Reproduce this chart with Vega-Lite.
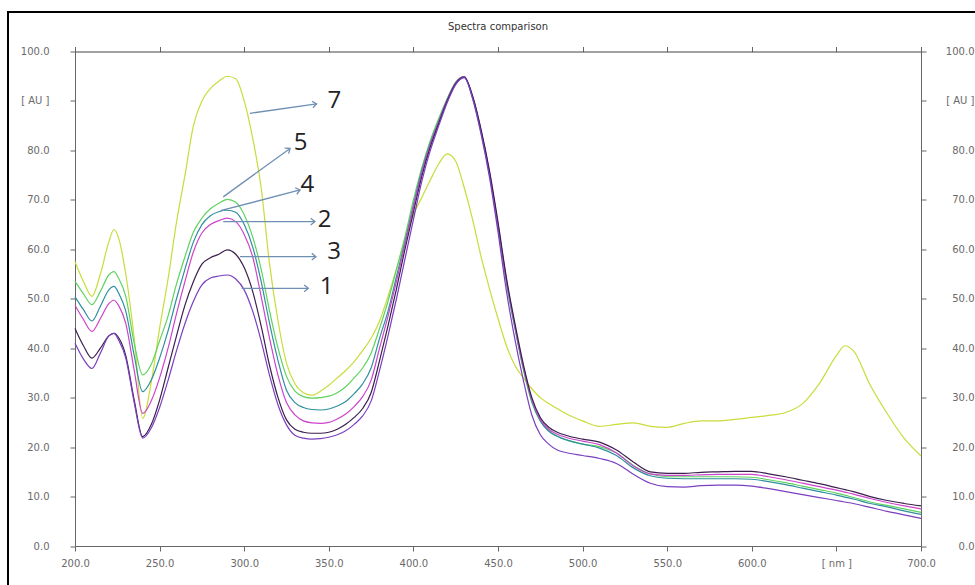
{
  "$schema": "https://vega.github.io/schema/vega-lite/v6.json",
  "width": 846,
  "height": 494.5,
  "autosize": {"type": "none"},
  "padding": {"left": 75, "top": 51.5, "right": 54, "bottom": 39},
  "background": "white",
  "title": {"text": "Spectra comparison", "fontSize": 10, "font": "DejaVu Sans", "fontWeight": "normal", "color": "#333333", "offset": -21, "frame": "group", "anchor": "middle"},
  "config": {
    "view": {"stroke": null},
    "axis": {"grid": false, "domainColor": "#666666", "tickColor": "#666666", "labelColor": "#6a6a6a", "labelFont": "DejaVu Sans", "labelFontSize": 10, "tickSize": 5, "title": null}
  },
  "datasets": {
    "spectra": [
      {"nm":200,"c7":57.5,"c5":53.5,"c4":50.4,"c2":48.7,"c3":44.0,"c1":41.0},
      {"nm":205,"c7":53.5,"c5":51.0,"c4":47.8,"c2":45.8,"c3":40.5,"c1":37.8},
      {"nm":210,"c7":50.5,"c5":48.8,"c4":45.5,"c2":43.4,"c3":38.0,"c1":35.9},
      {"nm":215,"c7":55.0,"c5":51.5,"c4":48.5,"c2":46.0,"c3":40.0,"c1":39.0},
      {"nm":220,"c7":61.5,"c5":54.8,"c4":51.8,"c2":49.0,"c3":42.5,"c1":42.5},
      {"nm":223,"c7":64.0,"c5":55.5,"c4":52.5,"c2":49.7,"c3":43.0,"c1":43.0},
      {"nm":226,"c7":62.0,"c5":54.0,"c4":51.0,"c2":48.5,"c3":42.0,"c1":41.5},
      {"nm":230,"c7":55.0,"c5":50.5,"c4":47.5,"c2":45.0,"c3":38.5,"c1":38.0},
      {"nm":235,"c7":42.0,"c5":41.0,"c4":38.5,"c2":35.5,"c3":29.5,"c1":29.0},
      {"nm":240,"c7":25.8,"c5":34.6,"c4":31.2,"c2":26.8,"c3":22.1,"c1":21.8},
      {"nm":245,"c7":33.0,"c5":36.7,"c4":33.5,"c2":29.3,"c3":24.5,"c1":23.8},
      {"nm":250,"c7":44.0,"c5":41.5,"c4":38.0,"c2":34.0,"c3":29.5,"c1":28.0},
      {"nm":255,"c7":54.0,"c5":46.5,"c4":43.5,"c2":40.0,"c3":36.0,"c1":33.5},
      {"nm":260,"c7":65.5,"c5":53.0,"c4":50.0,"c2":47.0,"c3":42.5,"c1":39.5},
      {"nm":265,"c7":75.0,"c5":58.5,"c4":56.0,"c2":53.5,"c3":48.7,"c1":45.0},
      {"nm":270,"c7":85.0,"c5":63.5,"c4":61.5,"c2":59.5,"c3":53.5,"c1":49.5},
      {"nm":275,"c7":90.0,"c5":66.3,"c4":65.0,"c2":63.3,"c3":57.0,"c1":52.8},
      {"nm":280,"c7":92.5,"c5":68.2,"c4":66.8,"c2":65.0,"c3":58.3,"c1":54.2},
      {"nm":285,"c7":94.0,"c5":69.3,"c4":67.6,"c2":65.8,"c3":59.0,"c1":54.6},
      {"nm":290,"c7":95.0,"c5":70.1,"c4":67.9,"c2":66.3,"c3":59.9,"c1":54.8},
      {"nm":295,"c7":94.5,"c5":69.5,"c4":67.5,"c2":65.6,"c3":59.0,"c1":54.0},
      {"nm":300,"c7":90.0,"c5":67.0,"c4":65.0,"c2":63.0,"c3":56.3,"c1":51.8},
      {"nm":305,"c7":82.5,"c5":62.5,"c4":60.5,"c2":58.5,"c3":51.5,"c1":47.5},
      {"nm":310,"c7":72.5,"c5":56.0,"c4":53.5,"c2":50.5,"c3":44.5,"c1":41.5},
      {"nm":315,"c7":57.0,"c5":47.5,"c4":45.0,"c2":42.0,"c3":36.5,"c1":34.5},
      {"nm":320,"c7":45.5,"c5":40.0,"c4":37.5,"c2":34.5,"c3":30.0,"c1":28.5},
      {"nm":325,"c7":37.0,"c5":34.3,"c4":31.5,"c2":29.0,"c3":25.5,"c1":24.5},
      {"nm":330,"c7":32.8,"c5":31.3,"c4":29.0,"c2":26.5,"c3":23.6,"c1":22.4},
      {"nm":335,"c7":31.0,"c5":30.2,"c4":28.0,"c2":25.3,"c3":23.0,"c1":21.8},
      {"nm":340,"c7":30.5,"c5":29.9,"c4":27.6,"c2":24.9,"c3":22.8,"c1":21.6},
      {"nm":345,"c7":31.3,"c5":30.0,"c4":27.5,"c2":24.8,"c3":22.8,"c1":21.7},
      {"nm":350,"c7":32.5,"c5":30.3,"c4":27.7,"c2":25.0,"c3":23.0,"c1":22.0},
      {"nm":355,"c7":34.0,"c5":31.0,"c4":28.3,"c2":25.7,"c3":23.6,"c1":22.5},
      {"nm":360,"c7":35.5,"c5":32.2,"c4":29.2,"c2":26.7,"c3":24.6,"c1":23.3},
      {"nm":365,"c7":37.3,"c5":34.0,"c4":30.8,"c2":28.2,"c3":26.0,"c1":24.6},
      {"nm":370,"c7":39.5,"c5":36.0,"c4":32.8,"c2":30.2,"c3":27.8,"c1":26.3},
      {"nm":375,"c7":42.0,"c5":39.0,"c4":36.0,"c2":33.5,"c3":31.0,"c1":29.3},
      {"nm":380,"c7":45.5,"c5":44.0,"c4":42.0,"c2":40.0,"c3":37.5,"c1":35.5},
      {"nm":385,"c7":50.5,"c5":49.5,"c4":47.5,"c2":46.5,"c3":44.5,"c1":42.5},
      {"nm":390,"c7":56.0,"c5":56.0,"c4":54.5,"c2":53.5,"c3":52.0,"c1":50.0},
      {"nm":395,"c7":62.0,"c5":62.5,"c4":61.5,"c2":61.0,"c3":60.0,"c1":58.0},
      {"nm":400,"c7":67.0,"c5":70.0,"c4":69.0,"c2":68.5,"c3":67.5,"c1":66.0},
      {"nm":405,"c7":70.5,"c5":76.5,"c4":76.0,"c2":75.5,"c3":74.8,"c1":73.8},
      {"nm":410,"c7":74.0,"c5":82.0,"c4":81.5,"c2":81.2,"c3":80.7,"c1":80.0},
      {"nm":415,"c7":77.3,"c5":86.5,"c4":86.0,"c2":85.8,"c3":85.5,"c1":85.0},
      {"nm":420,"c7":79.3,"c5":90.5,"c4":90.3,"c2":90.2,"c3":90.0,"c1":89.7},
      {"nm":425,"c7":77.8,"c5":93.8,"c4":93.7,"c2":93.6,"c3":93.5,"c1":93.3},
      {"nm":430,"c7":72.5,"c5":94.9,"c4":94.9,"c2":94.9,"c3":94.8,"c1":94.7},
      {"nm":435,"c7":66.0,"c5":90.5,"c4":90.7,"c2":90.8,"c3":91.0,"c1":90.5},
      {"nm":440,"c7":58.5,"c5":83.5,"c4":83.8,"c2":84.0,"c3":84.2,"c1":83.3},
      {"nm":445,"c7":52.0,"c5":75.0,"c4":75.3,"c2":75.5,"c3":75.8,"c1":74.5},
      {"nm":450,"c7":46.0,"c5":64.5,"c4":64.8,"c2":65.0,"c3":65.5,"c1":63.5},
      {"nm":455,"c7":40.5,"c5":53.0,"c4":53.5,"c2":53.8,"c3":54.2,"c1":51.5},
      {"nm":460,"c7":36.5,"c5":44.0,"c4":44.2,"c2":44.5,"c3":45.0,"c1":41.8},
      {"nm":465,"c7":34.0,"c5":35.6,"c4":36.0,"c2":36.2,"c3":36.7,"c1":33.5},
      {"nm":470,"c7":31.8,"c5":29.0,"c4":29.3,"c2":29.6,"c3":30.0,"c1":26.5},
      {"nm":475,"c7":30.0,"c5":25.3,"c4":25.3,"c2":25.6,"c3":26.0,"c1":22.5},
      {"nm":480,"c7":28.8,"c5":23.3,"c4":23.2,"c2":23.6,"c3":24.0,"c1":20.6},
      {"nm":485,"c7":27.8,"c5":22.2,"c4":22.2,"c2":22.6,"c3":23.0,"c1":19.4},
      {"nm":490,"c7":26.8,"c5":21.5,"c4":21.5,"c2":22.0,"c3":22.4,"c1":18.9},
      {"nm":500,"c7":25.3,"c5":20.6,"c4":20.6,"c2":21.2,"c3":21.6,"c1":18.3},
      {"nm":510,"c7":24.2,"c5":20.1,"c4":19.8,"c2":20.5,"c3":21.0,"c1":17.7},
      {"nm":520,"c7":24.6,"c5":18.8,"c4":18.3,"c2":18.8,"c3":19.4,"c1":16.7},
      {"nm":530,"c7":24.9,"c5":16.3,"c4":15.8,"c2":16.2,"c3":17.0,"c1":14.5},
      {"nm":540,"c7":24.2,"c5":14.6,"c4":14.2,"c2":14.6,"c3":15.0,"c1":12.7},
      {"nm":550,"c7":24.0,"c5":14.0,"c4":13.7,"c2":14.3,"c3":14.7,"c1":12.0},
      {"nm":560,"c7":24.8,"c5":14.0,"c4":13.6,"c2":14.3,"c3":14.7,"c1":11.9},
      {"nm":570,"c7":25.3,"c5":14.0,"c4":13.6,"c2":14.4,"c3":14.9,"c1":12.2},
      {"nm":580,"c7":25.3,"c5":14.0,"c4":13.6,"c2":14.5,"c3":15.0,"c1":12.3},
      {"nm":590,"c7":25.6,"c5":14.0,"c4":13.6,"c2":14.5,"c3":15.1,"c1":12.3},
      {"nm":600,"c7":26.0,"c5":13.9,"c4":13.5,"c2":14.5,"c3":15.1,"c1":12.1},
      {"nm":610,"c7":26.4,"c5":13.4,"c4":13.0,"c2":14.0,"c3":14.6,"c1":11.6},
      {"nm":620,"c7":27.0,"c5":12.8,"c4":12.4,"c2":13.4,"c3":14.0,"c1":11.0},
      {"nm":630,"c7":28.8,"c5":12.1,"c4":11.7,"c2":12.7,"c3":13.3,"c1":10.4},
      {"nm":640,"c7":32.9,"c5":11.4,"c4":11.0,"c2":12.0,"c3":12.6,"c1":9.8},
      {"nm":650,"c7":38.5,"c5":10.7,"c4":10.3,"c2":11.3,"c3":11.8,"c1":9.2},
      {"nm":655,"c7":40.5,"c5":10.3,"c4":9.9,"c2":10.9,"c3":11.4,"c1":8.9},
      {"nm":660,"c7":39.5,"c5":9.8,"c4":9.5,"c2":10.5,"c3":11.0,"c1":8.6},
      {"nm":670,"c7":32.5,"c5":8.9,"c4":8.6,"c2":9.6,"c3":10.0,"c1":7.8},
      {"nm":680,"c7":26.8,"c5":8.2,"c4":7.9,"c2":8.8,"c3":9.2,"c1":7.0},
      {"nm":690,"c7":21.8,"c5":7.5,"c4":7.1,"c2":8.1,"c3":8.6,"c1":6.3},
      {"nm":700,"c7":18.2,"c5":6.8,"c4":6.4,"c2":7.5,"c3":8.1,"c1":5.6}
    ],
    "arrows": [
      {"label":"7","x1":303.4,"y1":87.5,"x2":342.8,"y2":89.4,"lx":353.3,"ly":90.0},
      {"label":"5","x1":287.6,"y1":70.6,"x2":327.1,"y2":80.4,"lx":333.3,"ly":81.4},
      {"label":"4","x1":286.0,"y1":67.8,"x2":333.0,"y2":72.0,"lx":337.4,"ly":73.0},
      {"label":"2","x1":287.6,"y1":65.6,"x2":341.8,"y2":65.6,"lx":347.5,"ly":65.9},
      {"label":"3","x1":297.5,"y1":58.5,"x2":342.4,"y2":58.5,"lx":353.1,"ly":59.5},
      {"label":"1","x1":298.5,"y1":52.1,"x2":337.9,"y2":52.1,"lx":348.7,"ly":52.4}
    ]
  },
  "layer": [
    {
      "data": {"values": [{"frame": "border"}]},
      "mark": {"type": "rect", "filled": false, "stroke": "#000000", "strokeWidth": 2, "clip": false},
      "encoding": {
        "x": {"datum": 160.4, "type": "quantitative", "scale": {"domain": [200, 700], "nice": false, "zero": false}, "axis": null},
        "x2": {"datum": 745},
        "y": {"datum": 108.0, "type": "quantitative", "scale": {"domain": [0, 100], "nice": false, "zero": false}, "axis": null},
        "y2": {"datum": -12}
      }
    },
    {
      "data": {"name": "spectra"},
      "transform": [{"fold": ["c7", "c5", "c4", "c2", "c3", "c1"], "as": ["curve", "au"]}],
      "mark": {"type": "line", "strokeWidth": 1.2, "interpolate": "monotone"},
      "encoding": {
        "x": {"field": "nm", "type": "quantitative", "scale": {"domain": [200, 700], "nice": false, "zero": false},
              "axis": {"orient": "bottom", "values": [200,250,300,350,400,450,500,550,600,650,700], "labelExpr": "datum.value == 650 ? '[ nm ]' : format(datum.value, '.1f')", "labelPadding": 7, "labelFlush": false, "labelOverlap": false}},
        "y": {"field": "au", "type": "quantitative", "scale": {"domain": [0, 100], "nice": false, "zero": false},
              "axis": {"orient": "left", "values": [0,10,20,30,40,50,60,70,80,90,100], "labelExpr": "datum.value == 90 ? '[ AU ]' : format(datum.value, '.1f')", "labelPadding": 21, "labelFlush": false, "labelOverlap": false}},
        "color": {"field": "curve", "type": "nominal", "legend": null,
                  "scale": {"domain": ["c7", "c5", "c4", "c2", "c3", "c1"], "range": ["#c9dc3a", "#5fd35f", "#2f8f9f", "#cc44cc", "#3b1f4e", "#7a3fc0"]}},
        "order": {"field": "nm", "type": "quantitative"}
      }
    },
    {
      "data": {"name": "arrows"},
      "mark": {"type": "rule", "stroke": "#6f8fb3", "strokeWidth": 1.3},
      "encoding": {
        "x": {"field": "x1", "type": "quantitative", "scale": {"domain": [200, 700], "nice": false, "zero": false},
              "axis": {"orient": "top", "values": [200,250,300,350,400,450,500,550,600,650,700], "labels": false, "domainColor": "#444444"}},
        "x2": {"field": "x2"},
        "y": {"field": "y1", "type": "quantitative", "scale": {"domain": [0, 100], "nice": false, "zero": false},
              "axis": {"orient": "right", "values": [0,10,20,30,40,50,60,70,80,90,100], "labelExpr": "datum.value == 90 ? '[ AU ]' : format(datum.value, '.1f')", "labelAlign": "right", "labelPadding": 48, "labelFlush": false, "labelOverlap": false}},
        "y2": {"field": "y2"}
      }
    },
    {
      "data": {"name": "arrows"},
      "mark": {"type": "point", "shape": "M-1,-0.8L0,0L-1,0.8", "filled": false, "opacity": 1, "stroke": "#6f8fb3", "strokeWidth": 1.3, "size": 70,
               "angle": {"expr": "atan2(scale('y', datum.y2) - scale('y', datum.y1), scale('x', datum.x2) - scale('x', datum.x1)) * 180 / PI"}},
      "encoding": {
        "x": {"field": "x2", "type": "quantitative", "scale": {"domain": [200, 700], "nice": false, "zero": false}, "axis": null},
        "y": {"field": "y2", "type": "quantitative", "scale": {"domain": [0, 100], "nice": false, "zero": false}, "axis": null}
      }
    },
    {
      "data": {"name": "arrows"},
      "mark": {"type": "text", "font": "Open Sans", "fontSize": 24, "color": "#222222", "align": "center", "baseline": "middle"},
      "encoding": {
        "x": {"field": "lx", "type": "quantitative", "scale": {"domain": [200, 700], "nice": false, "zero": false}, "axis": null},
        "y": {"field": "ly", "type": "quantitative", "scale": {"domain": [0, 100], "nice": false, "zero": false}, "axis": null},
        "text": {"field": "label", "type": "nominal"}
      }
    }
  ],
  "resolve": {"axis": {"x": "independent", "y": "independent"}}
}
